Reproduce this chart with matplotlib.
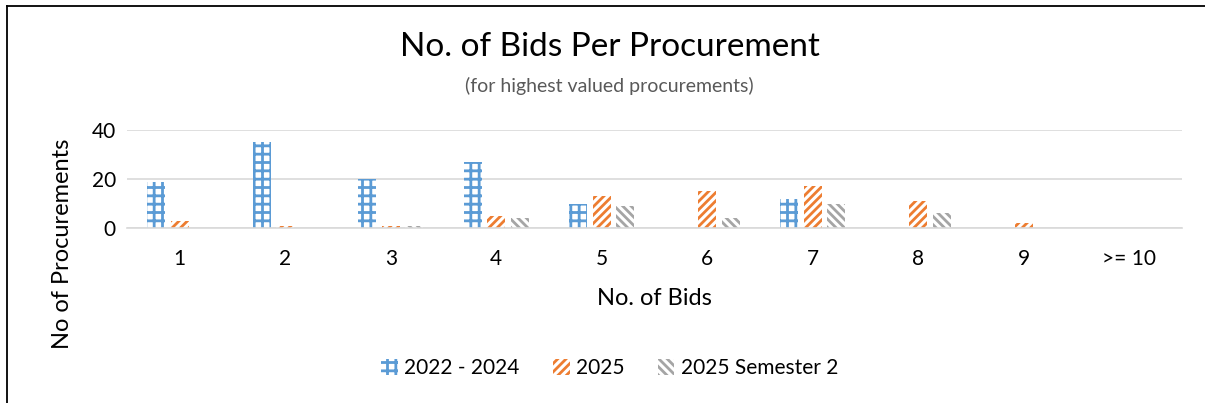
import matplotlib.pyplot as plt
import numpy as np
from matplotlib.lines import Line2D

# data
bids = ['1', '2', '3', '4', '5', '6', '7', '8', '9', '>= 10']
s2022_2024 = [19, 35, 20, 27, 10, 0, 12, 0, 0, 0]
s2025 = [3, 1, 1, 5, 13, 15, 17, 11, 2, 0]
s2025_sem2 = [0, 0, 1, 4, 9, 4, 10, 6, 0, 0]
series_names = ['2022 - 2024', '2025', '2025 Semester 2']

plt.rcParams['font.family'] = ['Lato', 'DejaVu Sans']
plt.rcParams['hatch.linewidth'] = 2.0

fig = plt.figure(figsize=(12.05, 4.03), dpi=100)
ax = fig.add_axes([0.1054, 0.434, 0.8756, 0.243])

x = np.arange(len(bids))
w = 0.17
off = 0.223
ax.bar(x - off, s2022_2024, w, facecolor='white', edgecolor='#5B9BD5', hatch='++', linewidth=0, label=series_names[0])
ax.bar(x, s2025, w, facecolor='white', edgecolor='#ED7D31', hatch='////', linewidth=0, label=series_names[1])
ax.bar(x + off, s2025_sem2, w, facecolor='white', edgecolor='#A5A5A5', hatch='\\' * 4, linewidth=0, label=series_names[2])

ax.set_xlim(-0.5, len(bids) - 0.5)
ax.set_ylim(0, 40)
ax.set_yticks([0, 20, 40])
ax.set_xticks(x)
ax.set_xticklabels(bids)
ax.grid(axis='y', color='#D9D9D9', linewidth=1.2)
ax.set_axisbelow(True)
for s in ['top', 'right', 'left']:
    ax.spines[s].set_visible(False)
ax.spines['bottom'].set_color('#D9D9D9')
ax.spines['bottom'].set_linewidth(1.2)
ax.tick_params(axis='both', length=0, labelsize=15)
ax.tick_params(axis='x', pad=15)
ax.tick_params(axis='y', pad=8)

ax.set_xlabel('No. of Bids', fontsize=17, labelpad=14)
fig.text(0.052, 0.395, 'No of Procurements', rotation=90, fontsize=17, ha='center', va='center')

fig.text(0.506, 0.883, 'No. of Bids Per Procurement', fontsize=24, ha='center', va='center')
fig.text(0.506, 0.786, '(for highest valued procurements)', fontsize=14, color='#595959', ha='center', va='center')

fig.legend(loc='center', bbox_to_anchor=(0.506, 0.087), ncol=3, frameon=False, fontsize=15,
           handlelength=0.8, handleheight=0.8, handletextpad=0.3, columnspacing=1.6)

# chart border (top and left edge only visible)
fig.add_artist(Line2D([0.006, 1.0], [0.985, 0.985], color='black', linewidth=1.3, transform=fig.transFigure))
fig.add_artist(Line2D([0.006, 0.006], [0.0, 0.985], color='black', linewidth=1.3, transform=fig.transFigure))

fig.savefig('out.png', dpi=100)
